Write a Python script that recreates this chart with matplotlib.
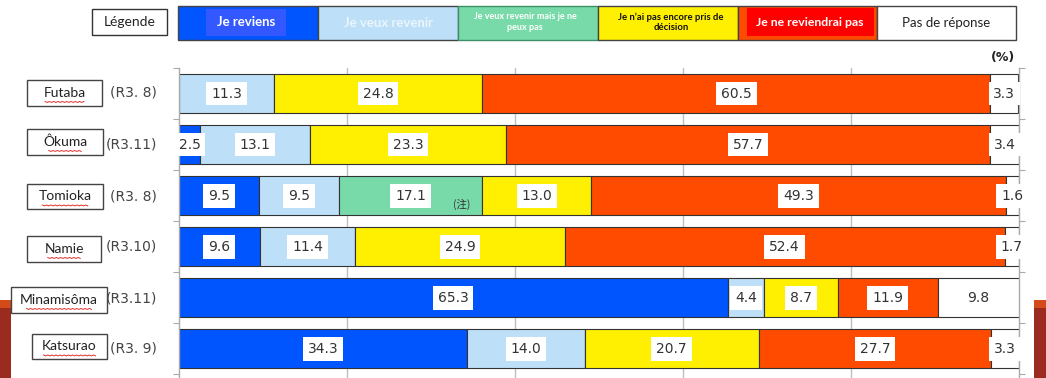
import numpy as np
import matplotlib
matplotlib.use("Agg")
from matplotlib import pyplot as plt
from matplotlib.patches import Rectangle

# data
communes = ["Futaba", "Ôkuma", "Tomioka", "Namie", "Minamisôma", "Katsurao"]
dates = ["(R3. 8)", "(R3.11)", "(R3. 8)", "(R3.10)", "(R3.11)", "(R3. 9)"]
categories = ["Je reviens", "Je veux revenir", "Je veux revenir mais je ne\npeux pas",
              "Je n’ai pas encore pris de\ndécision", "Je ne reviendrai pas", "Pas de réponse"]
reviens = [0, 2.5, 9.5, 9.6, 65.3, 34.3]
veux = [11.3, 13.1, 9.5, 11.4, 4.4, 14.0]
veux_mais = [0, 0, 17.1, 0, 0, 0]
indecis = [24.8, 23.3, 13.0, 24.9, 8.7, 20.7]
reviendrai_pas = [60.5, 57.7, 49.3, 52.4, 11.9, 27.7]
sans_reponse = [3.3, 3.4, 1.6, 1.7, 9.8, 3.3]
series = [reviens, veux, veux_mais, indecis, reviendrai_pas, sans_reponse]
couleurs = ["#0055FF", "#BDE0F8", "#78D9A9", "#FFEF00", "#FF4B00", "#FFFFFF"]

W, H = 1046, 378
fig = plt.figure(figsize=(W / 100, H / 100), dpi=100)

# decoration layer in pixel coords
ov = fig.add_axes([0, 0, 1, 1], zorder=0)
ov.set_xlim(0, W)
ov.set_ylim(H, 0)
ov.axis("off")

def box(x0, y0, x1, y1, fc, ec="#333333", lw=1.0, z=2):
    ov.add_patch(Rectangle((x0, y0), x1 - x0, y1 - y0, facecolor=fc, edgecolor=ec, lw=lw, zorder=z))

# slide decoration
for x0, x1 in [(0, 11), (1034, 1046)]:
    box(x0, 300, x1, 378, "#9B2A1F", ec="none", lw=0, z=1)
    box(x0, 300, x1, 308, "#D34B18", ec="none", lw=0, z=1)

# legend
box(92, 9, 167, 35, "white")
ov.text(129.5, 22, "Légende", ha="center", va="center", fontsize=10, family="Lato", color="#222222", zorder=3)
lx = [178, 318, 458, 598, 738, 877, 1016]
for k in range(6):
    box(lx[k], 6, lx[k + 1], 40, couleurs[k], ec="#444444" if k != 2 else "#3F8F66", lw=1.0)
box(206, 9, 286, 36, "#3358FF", ec="none", lw=0, z=3)
box(747, 8, 874, 36, "#FF0000", ec="none", lw=0, z=3)
cx = [(lx[k] + lx[k + 1]) / 2 for k in range(6)]
ov.text(246, 22, categories[0], ha="center", va="center", fontsize=9.5, weight="bold", family="Lato", color="white", zorder=4)
ov.text(cx[1], 23, categories[1], ha="center", va="center", fontsize=9.5, weight="bold", family="Lato", color="#EAF5FC", zorder=4)
ov.text(cx[2] - 3, 22, categories[2], ha="center", va="center", fontsize=6.5, weight="bold", family="Lato", color="white", zorder=4, linespacing=1.2)
ov.text(cx[3] + 3, 22, categories[3], ha="center", va="center", fontsize=6.8, weight="bold", family="Lato", color="#111111", zorder=4, linespacing=1.2)
ov.text(810, 22, categories[4], ha="center", va="center", fontsize=8.8, weight="bold", family="Lato", color="white", zorder=4)
ov.text(cx[5], 23, categories[5], ha="center", va="center", fontsize=9.5, family="Lato", color="#222222", zorder=4)
ov.text(1003, 57, "(%)", ha="center", va="center", fontsize=9, weight="bold", color="#222222", zorder=4)

# commune boxes
name_boxes = [(27, 80, 102, 106), (27, 129, 103, 155), (27, 184, 103, 209),
              (27, 236, 101, 262), (11, 287, 107, 313), (32, 334, 107, 359)]
row_y = [93, 144, 196, 247, 298, 349]
for i, (x0, y0, x1, y1) in enumerate(name_boxes):
    box(x0, y0, x1, y1, "white", ec="#444444", lw=1.0, z=3)
    ov.text((x0 + x1) / 2, (y0 + y1) / 2, communes[i], ha="center", va="center",
            fontsize=10, family="Lato", color="#222222", zorder=4)
    w = len(communes[i]) * 6.5
    xs = np.linspace((x0 + x1) / 2 - w / 2, (x0 + x1) / 2 + w / 2, int(w / 2))
    ys = (y0 + y1) / 2 + 8.5 + 0.9 * (np.arange(len(xs)) % 2)
    ov.plot(xs, ys, color="#E0302A", lw=0.7, zorder=4)
    ov.text(157, row_y[i], dates[i], ha="right", va="center", fontsize=10, color="#444444", zorder=4)

# main chart
ax = fig.add_axes([179 / W, 0, 840 / W, (H - 68) / H], zorder=1)
ax.patch.set_alpha(0)
y = np.arange(len(communes))
left = np.zeros(len(communes))
for k, vals in enumerate(series):
    vals = np.array(vals)
    ax.barh(y, vals, left=left, height=0.76, color=couleurs[k], edgecolor="#333333", lw=0.8, zorder=2)
    for i, v in enumerate(vals):
        if v > 0:
            ax.text(left[i] + v / 2, y[i], f"{v:.1f}", ha="center", va="center", fontsize=10,
                    color="#333333", zorder=5,
                    bbox=dict(boxstyle="square,pad=0.35", fc="white", ec="none"))
    left += vals
ax.text(33.6, 2.18, "(注)", ha="center", va="center", fontsize=7.5, color="#333333",
        family=["Noto Sans CJK JP", "DejaVu Sans"], zorder=5)

ax.set_xlim(0, 100)
ax.set_ylim(5.57, -0.49)
for g in [20, 40, 60, 80]:
    ax.axvline(g, color="#BFBFBF", lw=1.0, zorder=0)
ax.set_xticks([])
ax.set_yticks(np.arange(-0.5, 6, 1))
ax.set_yticklabels([])
ax.tick_params(axis="y", left=True, right=True, length=4, color="#AAAAAA", direction="out")
for s in ["top", "bottom"]:
    ax.spines[s].set_visible(False)
for s in ["left", "right"]:
    ax.spines[s].set_color("#AAAAAA")
    ax.spines[s].set_linewidth(1.0)

fig.savefig("out.png", dpi=100)
